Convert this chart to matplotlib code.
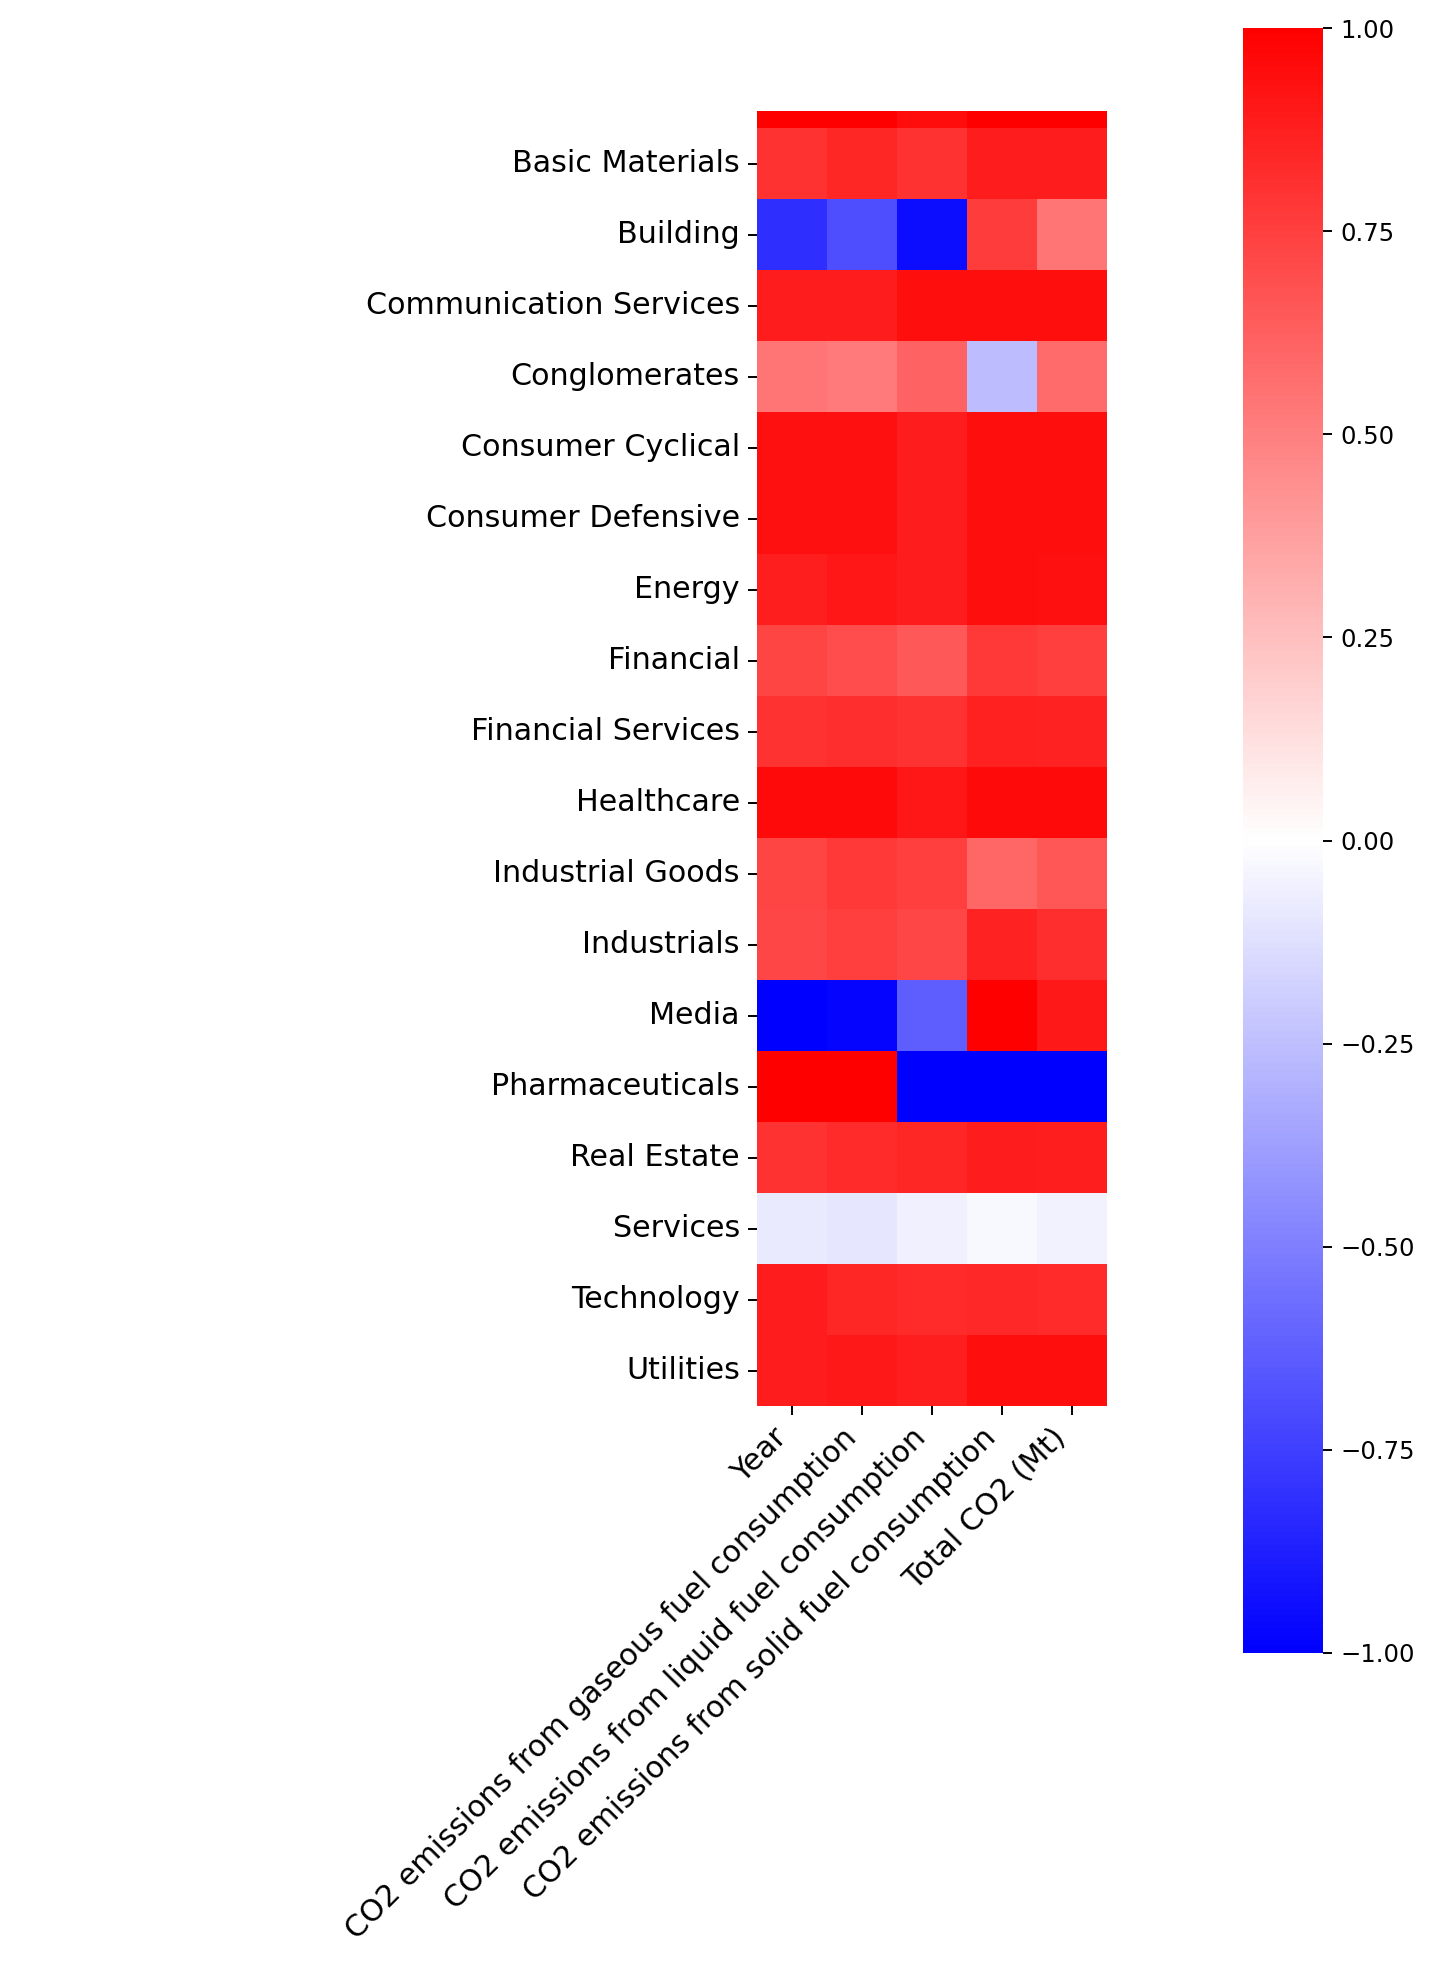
import numpy as np
import pandas as pd
import seaborn as sns
import matplotlib
matplotlib.use('Agg')
from matplotlib import pyplot as plt

# correlation of each sector's series with the CO2 columns
columns = ['Year',
           'CO2 emissions from gaseous fuel consumption',
           'CO2 emissions from liquid fuel consumption',
           'CO2 emissions from solid fuel consumption',
           'Total CO2 (Mt)']

# first row is only partly visible at the top of the picture, its label is cut off
sectors = ['', 'Basic Materials', 'Building', 'Communication Services', 'Conglomerates',
           'Consumer Cyclical', 'Consumer Defensive', 'Energy', 'Financial',
           'Financial Services', 'Healthcare', 'Industrial Goods', 'Industrials',
           'Media', 'Pharmaceuticals', 'Real Estate', 'Services', 'Technology',
           'Utilities']

hidden_row = [1.00, 1.00, 0.95, 1.00, 1.00]
basic_materials = [0.80, 0.85, 0.80, 0.89, 0.89]
building = [-0.82, -0.69, -0.95, 0.76, 0.54]
communication = [0.89, 0.89, 0.94, 0.94, 0.94]
conglomerates = [0.54, 0.52, 0.61, -0.26, 0.58]
consumer_cyclical = [0.93, 0.93, 0.89, 0.94, 0.94]
consumer_defensive = [0.93, 0.93, 0.89, 0.94, 0.94]
energy = [0.88, 0.91, 0.89, 0.94, 0.93]
financial = [0.73, 0.70, 0.65, 0.78, 0.75]
financial_services = [0.80, 0.82, 0.80, 0.87, 0.86]
healthcare = [0.96, 0.96, 0.91, 0.96, 0.96]
industrial_goods = [0.73, 0.78, 0.75, 0.60, 0.66]
industrials = [0.72, 0.75, 0.72, 0.86, 0.82]
media = [-1.00, -0.98, -0.63, 1.00, 0.90]
pharmaceuticals = [1.00, 1.00, -1.00, -1.00, -1.00]
real_estate = [0.80, 0.83, 0.85, 0.89, 0.88]
services = [-0.08, -0.10, -0.06, -0.03, -0.05]
technology = [0.89, 0.85, 0.83, 0.84, 0.83]
utilities = [0.89, 0.90, 0.88, 0.94, 0.94]

rows = [hidden_row, basic_materials, building, communication, conglomerates,
        consumer_cyclical, consumer_defensive, energy, financial, financial_services,
        healthcare, industrial_goods, industrials, media, pharmaceuticals,
        real_estate, services, technology, utilities]

corr = pd.DataFrame(rows, index=sectors, columns=columns)

dpi = 175
fig = plt.figure(figsize=(1436 / dpi, 1976 / dpi), dpi=dpi)
ax = fig.add_axes([757 / 1436, 1 - 1406 / 1976, 350 / 1436, 1295 / 1976])
cax = fig.add_axes([1243 / 1436, 1 - 1653 / 1976, 80 / 1436, 1625 / 1976])

sns.heatmap(corr, cmap='bwr', vmin=-1, vmax=1, ax=ax, cbar_ax=cax,
            xticklabels=columns, yticklabels=sectors)

# top row is cut, only its lower quarter shows
ax.set_ylim(len(sectors), 0.76)
ax.set_xlabel('')
ax.set_ylabel('')
ax.tick_params(axis='both', labelsize=12.4)
plt.setp(ax.get_yticklabels(), rotation=0)
plt.setp(ax.get_xticklabels(), rotation=45, ha='right', rotation_mode='default')

cax.set_yticks([-1, -0.75, -0.5, -0.25, 0, 0.25, 0.5, 0.75, 1])
cax.set_yticklabels(['\u22121.00', '\u22120.75', '\u22120.50', '\u22120.25',
                     '0.00', '0.25', '0.50', '0.75', '1.00'])
cax.tick_params(labelsize=10)

fig.savefig('out.png', dpi=dpi)
